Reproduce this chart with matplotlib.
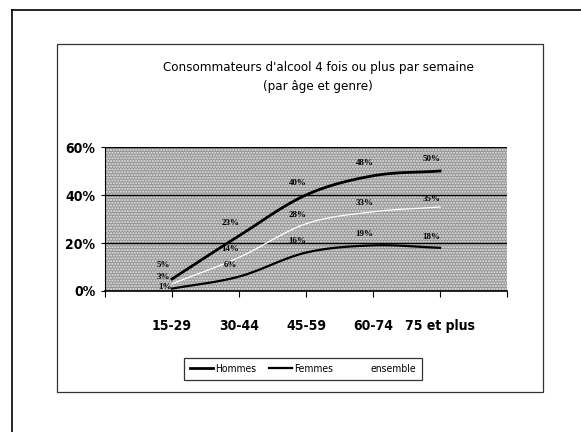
import numpy as np
import matplotlib
matplotlib.use("Agg")
import matplotlib.pyplot as plt
from matplotlib.lines import Line2D
from matplotlib.patches import Rectangle
from matplotlib import font_manager

categories = ["15-29", "30-44", "45-59", "60-74", "75 et plus"]
hommes = [5, 23, 40, 48, 50]
femmes = [1, 6, 16, 19, 18]
ensemble = [3, 14, 28, 33, 35]
yticks = [0, 20, 40, 60]
title = "Consommateurs d'alcool 4 fois ou plus par semaine\n(par âge et genre)"

names = {f.name for f in font_manager.fontManager.ttflist}
NARROW_NAME = "Liberation Sans Narrow" if "Liberation Sans Narrow" in names else "DejaVu Sans"
NARROW = dict(family=[NARROW_NAME, "DejaVu Sans"], stretch="condensed")
SERIF = ["Liberation Serif", "DejaVu Serif"]


def smooth(xs, ys, n=30):
    """Catmull-Rom rendering of the polyline through the data points."""
    xs = np.asarray(xs, float)
    ys = np.asarray(ys, float)
    px = np.concatenate([[2 * xs[0] - xs[1]], xs, [2 * xs[-1] - xs[-2]]])
    py = np.concatenate([[2 * ys[0] - ys[1]], ys, [2 * ys[-1] - ys[-2]]])
    ox, oy = [], []
    for i in range(1, len(px) - 2):
        t = np.linspace(0, 1, n, endpoint=False)
        for p, out in ((px, ox), (py, oy)):
            p0, p1, p2, p3 = p[i - 1], p[i], p[i + 1], p[i + 2]
            out.extend(0.5 * ((2 * p1) + (-p0 + p2) * t
                              + (2 * p0 - 5 * p1 + 4 * p2 - p3) * t ** 2
                              + (-p0 + 3 * p1 - 3 * p2 + p3) * t ** 3))
    ox.append(xs[-1]); oy.append(ys[-1])
    return np.array(ox), np.array(oy)


W, H = 581, 432
fig = plt.figure(figsize=(W / 100, H / 100), dpi=100)
fig.patch.set_facecolor("white")

# outer frame (top and left lines)
fig.add_artist(Line2D([12 / W, 1.0], [1 - 10 / H, 1 - 10 / H], color="black", lw=1.2))
fig.add_artist(Line2D([12 / W, 12 / W], [0, 1 - 10 / H], color="black", lw=1.2))
# inner chart box
fig.add_artist(Rectangle((57 / W, 1 - 392 / H), (543 - 57) / W, (392 - 44) / H,
                         transform=fig.transFigure, fill=False, ec="#333333", lw=0.9))

ax = fig.add_axes([105 / W, 1 - 291 / H, (507 - 105) / W, (291 - 147) / H])
ax.set_facecolor("#959595")
ax.add_patch(Rectangle((0, 0), 1, 1, transform=ax.transAxes, fill=False,
                       hatch="......", ec="#e6e6e6", lw=0, zorder=0.5))

x = np.arange(len(categories))
ax.set_xlim(-1, len(categories))
ax.set_ylim(0, 60)

for yv in yticks[1:]:
    ax.axhline(yv, color="black", lw=1.0, zorder=1)

sx, sy = smooth(x, hommes)
lh, = ax.plot(sx, sy, color="black", lw=2.0, zorder=3, label="Hommes")
sx, sy = smooth(x, femmes)
lf, = ax.plot(sx, sy, color="black", lw=1.6, zorder=3, label="Femmes")
sx, sy = smooth(x, ensemble)
le, = ax.plot(sx, sy, color="white", lw=0.9, zorder=3, label="ensemble")

# label offsets (points): first category labels are stacked at the left
first_offsets = {"h": (-6, 10), "e": (-6, 5), "f": (-5, 1)}
for key, vals, dy in (("h", hommes, 9), ("e", ensemble, 6), ("f", femmes, 8)):
    for xi, v in zip(x, vals):
        off = first_offsets[key] if xi == 0 else (-6, dy)
        ax.annotate(f"{v}%", (xi, v), xytext=off, textcoords="offset points",
                    ha="center", va="center", fontsize=6.5, fontweight="bold",
                    family=SERIF, color="black", zorder=4)

for s in ("top", "right"):
    ax.spines[s].set_visible(False)
ax.spines["left"].set_color("black")
ax.spines["bottom"].set_color("black")
ax.spines["bottom"].set_linewidth(1.2)

ax.set_xticks(np.arange(-1, len(categories) + 1))
ax.set_xticklabels([""] + categories + [""], fontsize=10, fontweight="bold", **NARROW)
ax.tick_params(axis="x", length=4, direction="out", pad=16, color="black")
ax.set_yticks(yticks)
ax.set_yticklabels([f"{v}%" for v in yticks], fontsize=10, fontweight="bold", **NARROW)
ax.tick_params(axis="y", length=3, direction="out", pad=4, color="black")

fig.text(318 / W, 1 - 77 / H, title, ha="center", va="center",
         fontsize=9.5, linespacing=1.6, **NARROW)

leg = fig.legend(handles=[lh, lf, le], loc="center", bbox_to_anchor=(303 / W, 1 - 369 / H),
                 ncol=3, frameon=True, fancybox=False, edgecolor="black",
                 prop={"family": NARROW["family"], "stretch": "condensed", "size": 7.5},
                 handlelength=2.2, handletextpad=0.2, columnspacing=1.2, borderpad=0.6)
leg.get_frame().set_linewidth(0.9)

fig.savefig("out.png", dpi=100)
